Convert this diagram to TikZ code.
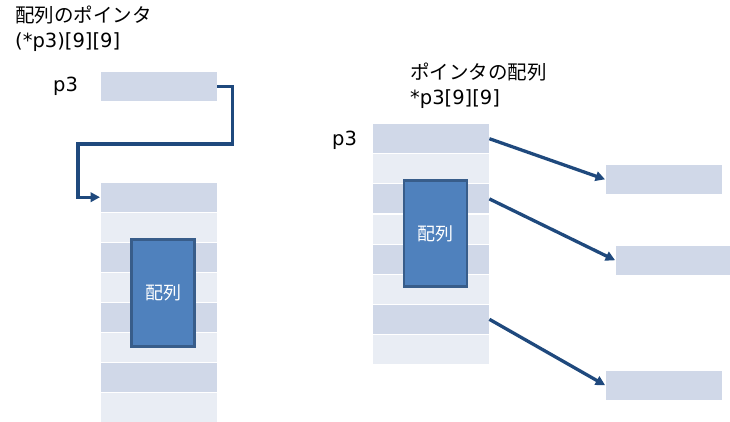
\documentclass[tikz,border=0pt]{standalone}
\usepackage{fontspec}
\setmainfont{DejaVu Sans}
\newfontfamily\cjk{Noto Sans CJK JP}
\usetikzlibrary{arrows.meta}
\definecolor{rowdark}{HTML}{D0D8E8}
\definecolor{rowlight}{HTML}{E9EDF4}
\definecolor{boxfill}{HTML}{4F81BD}
\definecolor{boxline}{HTML}{385D8A}
\definecolor{arrowc}{HTML}{1F497D}
\tikzset{
  cell/.style={anchor=north west, inner sep=0pt, minimum width=116pt, minimum height=29pt, fill=#1},
  arrbox/.style={draw=boxline, line width=2.8pt, fill=boxfill, inner sep=0pt, minimum width=63pt, minimum height=106.5pt, text=white, font=\cjk\fontsize{18}{21}\selectfont},
  lbl/.style={anchor=base west, inner sep=0pt, font=\fontsize{19.5}{23}\selectfont},
  ptr/.style={draw=arrowc, line width=3.3pt, -{Triangle[length=9.5pt,width=9.5pt]}, shorten >=1pt}
}
\begin{document}
\begin{tikzpicture}[x=1pt,y=-1pt]
\useasboundingbox (0,0) rectangle (730,421);
% left titles
\node[lbl] (t1) at (15,22) {{\cjk 配列のポインタ}};
\node[lbl] (t2) at (15,47) {(*p3)[9][9]};
\node[lbl] (lp3) at (53,91.5) {p3};
\node[cell=rowdark] (L0) at (101,72) {};
% left stack
\foreach \i in {1,...,8}{
  \pgfmathsetmacro{\yy}{182.5+30*(\i-1)}
  \ifodd\i \def\cc{rowdark}\else \def\cc{rowlight}\fi
  \node[cell=\cc] (La\i) at (101,\yy) {};
}
\node[arrbox] (LA) at (163,293) {配列};
\draw[ptr] (L0.east) -- ++(15,0) |- (78,144) |- (La1.west);
% right titles
\node[lbl] (t3) at (410,79) {{\cjk ポインタの配列}};
\node[lbl] (t4) at (410,104) {*p3[9][9]};
\node[lbl] (rp3) at (332,145) {p3};
\foreach \i in {1,...,8}{
  \pgfmathsetmacro{\yy}{124+30.1*(\i-1)}
  \ifodd\i \def\cc{rowdark}\else \def\cc{rowlight}\fi
  \node[cell=\cc] (R\i) at (373,\yy) {};
}
\node[arrbox] (RA) at (435.5,233.5) {配列};
\node[cell=rowdark] (B1) at (606,165) {};
\node[cell=rowdark, minimum width=114pt] (B2) at (616,246) {};
\node[cell=rowdark] (B3) at (606,371) {};
\draw[ptr] (R1.east) -- (B1.west);
\draw[ptr] (R3.east) -- (B2.west);
\draw[ptr] (R7.east) -- (B3.west);
\end{tikzpicture}
\end{document}
